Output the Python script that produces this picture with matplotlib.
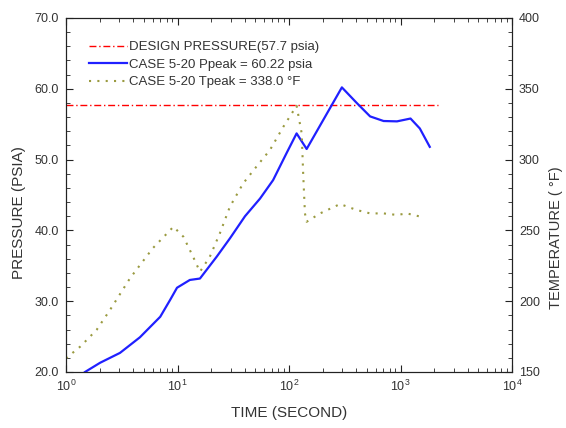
import numpy as np
import matplotlib
matplotlib.use('Agg')
import matplotlib.pyplot as plt
from matplotlib.ticker import MultipleLocator, LogLocator, FormatStrFormatter, NullFormatter
from matplotlib.lines import Line2D

plt.rcParams['font.family'] = ['Liberation Sans', 'DejaVu Sans']
plt.rcParams['mathtext.fontset'] = 'custom'
plt.rcParams['mathtext.rm'] = 'Liberation Sans'

# Design limit
design_pressure = 57.7

# Case 5-20 pressure history (psia)
time_p = [1.48, 2.02, 3.05, 4.6, 7.0, 8.6, 9.9, 12.9, 15.9, 22.5, 29.6, 40.3, 55.0, 72.0,
          95.0, 117.0, 144.0, 298.0, 405.0, 534.0, 705.0, 930.0, 1230.0, 1490.0, 1830.0]
pressure = [20.0, 21.3, 22.7, 24.9, 27.8, 30.2, 31.9, 33.0, 33.2, 36.3, 38.9, 42.0, 44.5, 47.1,
            50.9, 53.7, 51.5, 60.2, 58.0, 56.1, 55.45, 55.4, 55.8, 54.4, 51.8]

# Case 5-20 temperature history (F)
time_t = [1.0, 1.34, 1.88, 2.48, 3.75, 6.0, 9.2, 11.3, 13.8, 15.9, 19.5, 24.0, 29.5, 38.8,
          51.0, 67.5, 89.0, 117.0, 130.0, 134.0, 139.0, 144.0, 190.0, 287.0, 405.0, 534.0,
          705.0, 930.0, 1140.0, 1590.0]
temperature = [159.7, 167.9, 179.7, 193.8, 216.2, 237.4, 252.6, 245.5, 231.4, 220.8, 231.4,
               248.0, 266.7, 283.2, 295.0, 306.8, 323.2, 338.0, 318.5, 290.0, 262.0, 256.1,
               262.0, 268.6, 264.4, 262.0, 262.0, 260.9, 262.0, 259.3]

p_peak = 60.22
t_peak = 338.0

txt = '#333333'
fig = plt.figure(figsize=(5.66, 4.28), dpi=100)
ax = fig.add_axes([66/566, 56/428, 446/566, 354/428])
ax2 = ax.twinx()

ax.axhline(design_pressure, xmin=0, xmax=np.log10(2180)/4, color='red', lw=1.0,
           dashes=(5, 2, 1, 2))
ax.plot(time_p, pressure, color='#2020ff', lw=1.6)
ax2.plot(time_t, temperature, color='#9a9a40', lw=1.5, dashes=(1, 3))

ax.set_xscale('log')
ax.set_xlim(1, 1e4)
ax.set_ylim(20, 70)
ax2.set_ylim(150, 400)

ax.yaxis.set_major_locator(MultipleLocator(10))
ax.yaxis.set_minor_locator(MultipleLocator(2))
ax.yaxis.set_major_formatter(FormatStrFormatter('%.1f'))
ax2.yaxis.set_major_locator(MultipleLocator(50))
ax2.yaxis.set_minor_locator(MultipleLocator(10))
ax.xaxis.set_major_locator(LogLocator(base=10, numticks=10))
ax.xaxis.set_minor_locator(LogLocator(base=10, subs=np.arange(2, 10), numticks=10))
ax.xaxis.set_minor_formatter(NullFormatter())

for a in (ax, ax2):
    a.tick_params(which='major', direction='in', length=5, width=0.8, labelsize=9,
                  labelcolor=txt, color='#222222', pad=5)
    a.tick_params(which='minor', direction='in', length=3, width=0.6, color='#222222')
    for s in a.spines.values():
        s.set_color('#222222')
        s.set_linewidth(0.8)
ax.tick_params(axis='x', which='both', top=True)
ax.tick_params(axis='y', which='both', right=False)

ax.set_xlabel('TIME (SECOND)', fontsize=11, color=txt)
ax.set_ylabel('PRESSURE (PSIA)', fontsize=11, color=txt)
ax2.set_ylabel('TEMPERATURE ( °F)', fontsize=10.5, color=txt, rotation=90)
ax.xaxis.set_label_coords(0.5, -0.095)
ax.yaxis.set_label_coords(-0.09, 0.45)
ax2.yaxis.set_label_coords(1.083, 0.38)

handles = [
    Line2D([], [], color='red', lw=1.0, dashes=(5, 2, 1, 2)),
    Line2D([], [], color='#2020ff', lw=1.6),
    Line2D([], [], color='#9a9a40', lw=1.5, dashes=(1, 3)),
]
labels = [
    'DESIGN PRESSURE(%.1f psia)' % design_pressure,
    'CASE 5-20 Ppeak = %.2f psia' % p_peak,
    'CASE 5-20 Tpeak = %.1f °F' % t_peak,
]
leg = ax2.legend(handles, labels, loc='upper left', bbox_to_anchor=(0.04, 0.95),
                 frameon=False, fontsize=9.5, handlelength=2.9, handletextpad=0.15,
                 labelspacing=0.4, borderaxespad=0)
for t in leg.get_texts():
    t.set_color(txt)

fig.savefig('out.png', dpi=100)
